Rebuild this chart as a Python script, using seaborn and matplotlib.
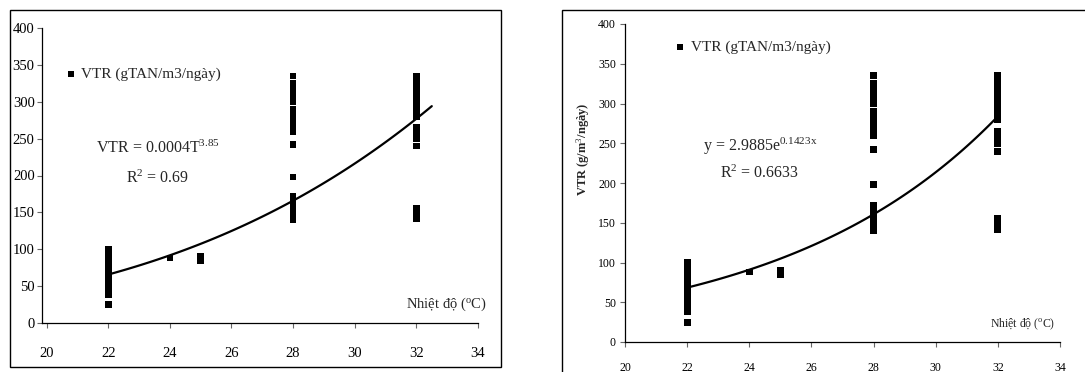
import numpy as np
import pandas as pd
import matplotlib
matplotlib.use("Agg")
import matplotlib.pyplot as plt
import seaborn as sns
from matplotlib.patches import Rectangle

temp_22 = [22] * 21
vtr_22 = [100, 97, 94, 90, 87, 84, 80, 77, 74, 70, 67, 64, 60, 57, 54, 50, 47, 44, 41, 38, 25]
temp_24 = [24]
vtr_24 = [88]
temp_25 = [25, 25]
vtr_25 = [85, 90]
temp_28 = [28] * 25
vtr_28 = [335, 325, 320, 312, 305, 300, 290, 285, 280, 275, 270, 265, 260, 242, 198,
          172, 168, 164, 160, 156, 152, 148, 145, 142, 140]
temp_32 = [32] * 20
vtr_32 = [335, 330, 322, 318, 312, 308, 302, 298, 290, 285, 280, 265, 260, 255, 250,
          240, 155, 150, 145, 142]

# trendline coefficients as printed on the chart
power_a, power_b = 0.00046, 3.84      # VTR = a * T^b (left)
exp_a, exp_b = 2.9885, 0.1423         # y = a * e^(b x) (right)
trend_left_range = (22, 32.5)
trend_right_range = (22, 32)

x_ticks = [20, 22, 24, 26, 28, 30, 32, 34]
y_ticks = [0, 50, 100, 150, 200, 250, 300, 350, 400]

df = pd.DataFrame({
    "T": temp_22 + temp_24 + temp_25 + temp_28 + temp_32,
    "VTR": vtr_22 + vtr_24 + vtr_25 + vtr_28 + vtr_32,
})

sns.set_theme(style="ticks")
plt.rcParams["font.family"] = ["Liberation Serif", "DejaVu Serif"]
plt.rcParams["mathtext.fontset"] = "custom"
plt.rcParams["mathtext.rm"] = "Liberation Serif"
plt.rcParams["mathtext.it"] = "Liberation Serif:italic"

fig = plt.figure(figsize=(10.85, 3.72), dpi=100)
W, H = 1085, 372

# outer boxes around both panels
fig.patches.append(Rectangle((10 / W, 1 - 367 / H), 491 / W, 357 / H, transform=fig.transFigure,
                             fill=False, edgecolor="black", linewidth=1.0))
fig.patches.append(Rectangle((562 / W, 1 - 380 / H), 530 / W, 370 / H, transform=fig.transFigure,
                             fill=False, edgecolor="black", linewidth=1.0, clip_on=False))

ax1 = fig.add_axes([42 / W, 1 - 323 / H, 436 / W, 295 / H])
ax2 = fig.add_axes([625 / W, 1 - 342 / H, 435 / W, 318 / H])


def style_axis(ax, xlim, tick_size, xpad, ypad):
    ax.set_xlim(*xlim)
    ax.set_ylim(0, 400)
    ax.set_xticks(x_ticks)
    ax.set_yticks(y_ticks)
    ax.set_xlabel("")
    ax.set_ylabel("")
    for s in ["top", "right"]:
        ax.spines[s].set_visible(False)
    for s in ["left", "bottom"]:
        ax.spines[s].set_linewidth(0.9)
        ax.spines[s].set_color("black")
    ax.tick_params(axis="both", direction="out", length=3.5, width=0.8, color="#666666",
                   labelsize=tick_size, labelcolor="black")
    ax.tick_params(axis="x", pad=xpad)
    ax.tick_params(axis="y", pad=ypad)
    ax.patch.set_alpha(0)


# left panel
sns.scatterplot(data=df, x="T", y="VTR", ax=ax1, marker="s", s=22, color="black",
                edgecolor="none", label="VTR (gTAN/m3/ngày)")
tl = np.linspace(*trend_left_range, 100)
sns.lineplot(x=tl, y=power_a * tl ** power_b, ax=ax1, color="black", linewidth=1.6,
             sort=False, legend=False)
style_axis(ax1, (19.85, 34), 10.5, 14, 1.8)
ax1.legend(loc="upper left", bbox_to_anchor=(66 / W, 1 - 67 / H), bbox_transform=fig.transFigure,
           frameon=False, fontsize=11, handlelength=0.6, handletextpad=0.35,
           borderpad=0, borderaxespad=0, markerscale=0.9)
fig.text(158 / W, 1 - 148 / H, r"VTR = 0.0004T$^{\mathrm{3.85}}$", ha="center", va="center", fontsize=11.5)
fig.text(158 / W, 1 - 178 / H, r"R$^{\mathrm{2}}$ = 0.69", ha="center", va="center", fontsize=11.5)
fig.text(487 / W, 1 - 304 / H, r"Nhiệt độ ($^{\mathrm{o}}$C)", ha="right", va="center", fontsize=10.5)

# right panel
sns.scatterplot(data=df, x="T", y="VTR", ax=ax2, marker="s", s=24, color="black",
                edgecolor="none", label="VTR (gTAN/m3/ngày)")
tr = np.linspace(*trend_right_range, 100)
sns.lineplot(x=tr, y=exp_a * np.exp(exp_b * tr), ax=ax2, color="black", linewidth=1.6,
             sort=False, legend=False)
style_axis(ax2, (20, 34), 8.5, 11, 3)
ax2.legend(loc="upper left", bbox_to_anchor=(675 / W, 1 - 40 / H), bbox_transform=fig.transFigure,
           frameon=False, fontsize=11, handlelength=0.6, handletextpad=0.45,
           borderpad=0, borderaxespad=0, markerscale=0.9)
fig.text(760 / W, 1 - 146 / H, r"y = 2.9885e$^{\mathrm{0.1423x}}$", ha="center", va="center", fontsize=11.5)
fig.text(760 / W, 1 - 173 / H, r"R$^{\mathrm{2}}$ = 0.6633", ha="center", va="center", fontsize=11.5)
fig.text(1055 / W, 1 - 324 / H, r"Nhiệt độ ($^{\mathrm{o}}$C)", ha="right", va="center", fontsize=8.5)
fig.text(583 / W, 1 - 149 / H, r"VTR (g/m$^{\mathrm{3}}$/ngày)", ha="center", va="center",
         rotation=90, fontsize=9, fontweight="bold")

fig.savefig("out.png", dpi=100)
